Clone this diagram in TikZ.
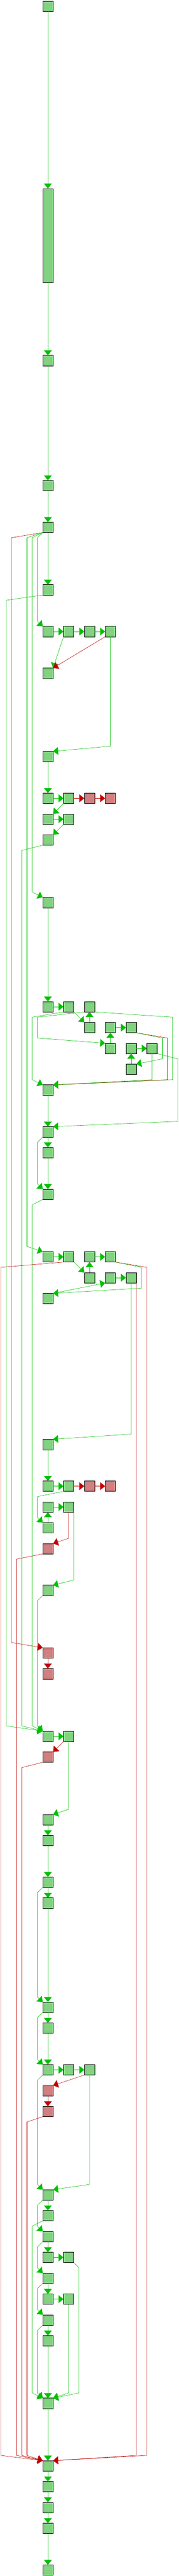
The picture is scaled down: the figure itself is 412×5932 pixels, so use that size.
\documentclass[tikz,border=0pt]{standalone}
\usetikzlibrary{arrows.meta}
\definecolor{gfill}{HTML}{82D282}
\definecolor{pfill}{HTML}{D08080}
\definecolor{gline}{HTML}{00C000}
\definecolor{rline}{HTML}{C00000}
\tikzset{
  gbox/.style={draw=black, fill=gfill, line width=0.8pt, minimum width=24pt, minimum height=24pt, inner sep=0pt, outer sep=0pt},
  pbox/.style={gbox, fill=pfill},
  ge/.style={draw=gline, line width=0.7pt, -{Triangle[length=11.5pt,width=18pt]}},
  re/.style={draw=rline, line width=0.7pt, -{Triangle[length=11.5pt,width=18pt]}},
}
\begin{document}
\begin{tikzpicture}[x=1pt,y=-1pt]
\useasboundingbox (0,0) rectangle (412,5932);
% ---------- nodes ----------
\node[gbox] (n1) at (110.5,14.3) {};
\node[gbox, minimum height=216pt] (n2) at (110.5,542.3) {};
\node[gbox] (n3) at (110.5,830.3) {};
\node[gbox] (n4) at (110.5,1118.3) {};
\node[gbox] (n5) at (110.5,1214.3) {};
\node[gbox] (n6) at (110.5,1358.3) {};
\node[gbox] (n7a) at (110.5,1454.3) {};
\node[gbox] (n7b) at (158.5,1454.3) {};
\node[gbox] (n7c) at (206.5,1454.3) {};
\node[gbox] (n7d) at (254.5,1454.3) {};
\node[gbox] (n8) at (110.5,1550.3) {};
\node[gbox] (n9) at (110.5,1742.3) {};
\node[gbox] (n10a) at (110.5,1838.3) {};
\node[gbox] (n10b) at (158.5,1838.3) {};
\node[pbox] (n10c) at (206.5,1838.3) {};
\node[pbox] (n10d) at (254.5,1838.3) {};
\node[gbox] (n11a) at (110.5,1886.3) {};
\node[gbox] (n11b) at (158.5,1886.3) {};
\node[gbox] (n12) at (110.5,1934.3) {};
\node[gbox] (n13) at (110.5,2078.3) {};
\node[gbox] (r1a) at (110.5,2318.3) {};
\node[gbox] (r1b) at (158.5,2318.3) {};
\node[gbox] (r1c) at (206.5,2318.3) {};
\node[gbox] (r2a) at (206.5,2366.3) {};
\node[gbox] (r2b) at (254.5,2366.3) {};
\node[gbox] (r2c) at (302.5,2366.3) {};
\node[gbox] (r3a) at (254.5,2414.3) {};
\node[gbox] (r3b) at (302.5,2414.3) {};
\node[gbox] (r3c) at (350.5,2414.3) {};
\node[gbox] (r4) at (302.5,2462.3) {};
\node[gbox] (nb) at (110.5,2510.3) {};
\node[gbox] (nc) at (110.5,2606.3) {};
\node[gbox] (nd) at (110.5,2654.3) {};
\node[gbox] (ne) at (110.5,2750.3) {};
\node[gbox] (f1a) at (110.5,2894.3) {};
\node[gbox] (f1b) at (158.5,2894.3) {};
\node[gbox] (f1c) at (206.5,2894.3) {};
\node[gbox] (f1d) at (254.5,2894.3) {};
\node[gbox] (f2a) at (206.5,2942.3) {};
\node[gbox] (f2b) at (254.5,2942.3) {};
\node[gbox] (f2c) at (302.5,2942.3) {};
\node[gbox] (ng) at (110.5,2990.3) {};
\node[gbox] (nh) at (110.5,3326.3) {};
\node[gbox] (i1a) at (110.5,3422.3) {};
\node[gbox] (i1b) at (158.5,3422.3) {};
\node[pbox] (i1c) at (206.5,3422.3) {};
\node[pbox] (i1d) at (254.5,3422.3) {};
\node[gbox] (i2a) at (110.5,3470.3) {};
\node[gbox] (i2b) at (158.5,3470.3) {};
\node[gbox] (i3) at (110.5,3518.3) {};
\node[pbox] (nj) at (110.5,3566.3) {};
\node[gbox] (nk) at (110.5,3662.3) {};
\node[pbox] (nl) at (110.5,3806.3) {};
\node[pbox] (nm) at (110.5,3854.3) {};
\node[gbox] (nna) at (110.5,3998.3) {};
\node[gbox] (nnb) at (158.5,3998.3) {};
\node[pbox] (no) at (110.5,4046.3) {};
\node[gbox] (np) at (110.5,4190.3) {};
\node[gbox] (nq) at (110.5,4238.3) {};
\node[gbox] (nr) at (110.5,4334.3) {};
\node[gbox] (ns) at (110.5,4382.3) {};
\node[gbox] (nt) at (110.5,4622.3) {};
\node[gbox] (nu) at (110.5,4670.3) {};
\node[gbox] (va) at (110.5,4766.3) {};
\node[gbox] (vb) at (158.5,4766.3) {};
\node[gbox] (vc) at (206.5,4766.3) {};
\node[pbox] (nw) at (110.5,4814.3) {};
\node[pbox] (nx) at (110.5,4862.3) {};
\node[gbox] (ny) at (110.5,5054.3) {};
\node[gbox] (nz) at (110.5,5102.3) {};
\node[gbox] (aa) at (110.5,5150.3) {};
\node[gbox] (aba) at (110.5,5198.3) {};
\node[gbox] (abb) at (158.5,5198.3) {};
\node[gbox] (ac) at (110.5,5246.3) {};
\node[gbox] (ada) at (110.5,5294.3) {};
\node[gbox] (adb) at (158.5,5294.3) {};
\node[gbox] (ae) at (110.5,5342.3) {};
\node[gbox] (af) at (110.5,5390.3) {};
\node[gbox] (ag) at (110.5,5534.3) {};
\node[gbox] (ah) at (110.5,5678.3) {};
\node[gbox] (ai) at (110.5,5726.3) {};
\node[gbox] (aj) at (110.5,5774.3) {};
\node[gbox] (ak) at (110.5,5822.3) {};
\node[gbox] (al) at (110.5,5918.3) {};
% ---------- edges ----------
\draw[ge] (n1.south) -- (n2.north);
\draw[ge] (n2.south) -- (n3.north);
\draw[ge] (n3.south) -- (n4.north);
\draw[ge] (n4.south) -- (n5.north);
\draw[ge] (n5.south) -- (n6.north);
\draw[re] (n5.south west) -- (26.3,1238.3) -- (26.3,3782.3) -- (nl.north west);
\draw[ge] (n5.south west) -- (62.3,1238.3) -- (62.3,2870.3) -- (f1a.north west);
\draw[ge] (n5.south west) -- (74.3,1238.3) -- (74.3,2054.3) -- (n13.north west);
\draw[ge] (n5.south west) -- (86.3,1238.3) -- (86.3,1430.3) -- (n7a.north west);
\draw[ge] (n6.south west) -- (14.3,1382.3) -- (14.3,3974.3) -- (nna.north west);
\draw[ge] (n7a.east) -- (n7b.west);
\draw[ge] (n7b.east) -- (n7c.west);
\draw[ge] (n7c.east) -- (n7d.west);
\draw[ge] (n7b.south west) -- (n8.north east);
\draw[re] (n7d.south west) -- (n8.north east);
\draw[ge] (n7d.south) -- (254.5,1718.3) -- (n9.north east);
\draw[ge] (n9.south) -- (n10a.north);
\draw[ge] (n10a.east) -- (n10b.west);
\draw[re] (n10b.east) -- (n10c.west);
\draw[re] (n10c.east) -- (n10d.west);
\draw[ge] (n10b.south west) -- (n11a.north east);
\draw[ge] (n11a.east) -- (n11b.west);
\draw[ge] (n11b.south west) -- (n12.north east);
\draw[ge] (n12.south west) -- (50.3,1958.3) -- (50.3,3974.3) -- (nna.north west);
\draw[ge] (n13.south) -- (r1a.north);
\draw[ge] (r1a.east) -- (r1b.west);
\draw[ge] (r1b.south east) -- (r2a.north west);
\draw[ge] (r2a.north) -- (r1c.south);
\draw[ge] (r2b.east) -- (r2c.west);
\draw[ge] (r3a.north) -- (r2b.south);
\draw[ge] (r3b.east) -- (r3c.west);
\draw[ge] (r4.north) -- (r3b.south);
\draw[ge] (r1b.south west) -- (74.3,2342.3) -- (74.3,2486.3) -- (nb.north west);
\draw[ge] (r1c.south west) -- (86.3,2342.3) -- (86.3,2390.3) -- (r3a.north west);
\draw[ge] (r1c.south east) -- (398.3,2342.3) -- (398.3,2486.3) -- (nb.north east);
\draw[re] (r2c.south east) -- (386.3,2390.3) -- (386.3,2486.3) -- (nb.north east);
\draw[ge] (r2c.south east) -- (374.3,2390.3) -- (374.3,2438.3) -- (r4.north east);
\draw[ge] (r3c.south) -- (350.5,2486.3) -- (nb.north east);
\draw[ge] (r3c.south east) -- (410.3,2438.3) -- (410.3,2582.3) -- (nc.north east);
\draw[ge] (nb.south) -- (nc.north);
\draw[ge] (nc.south) -- (nd.north);
\draw[ge] (nc.south west) -- (86.3,2630.3) -- (86.3,2726.3) -- (ne.north west);
\draw[ge] (nd.south) -- (ne.north);
\draw[ge] (ne.south west) -- (74.3,2774.3) -- (74.3,3974.3) -- (nna.north west);
\draw[ge] (f1a.east) -- (f1b.west);
\draw[ge] (f1c.east) -- (f1d.west);
\draw[ge] (f1b.south east) -- (f2a.north west);
\draw[ge] (f2a.north) -- (f1c.south);
\draw[ge] (f2b.east) -- (f2c.west);
\draw[re] (f1b.south west) -- (2.3,2918.3) -- (2.3,5654.3) -- (ah.north west);
\draw[re] (f1d.south east) -- (338.3,2918.3) -- (338.3,5654.3) -- (ah.north east);
\draw[ge] (f1d.south east) -- (326.3,2918.3) -- (326.3,2966.3) -- (ng.north east);
\draw[ge] (ng.north east) -- (f2b.south west);
\draw[ge] (f2c.south) -- (302.5,3302.3) -- (nh.north east);
\draw[re] (f2c.south east) -- (314.5,5654.3) -- (ah.north east);
\draw[ge] (nh.south) -- (i1a.north);
\draw[ge] (i1a.east) -- (i1b.west);
\draw[re] (i1b.east) -- (i1c.west);
\draw[re] (i1c.east) -- (i1d.west);
\draw[ge] (i1b.south west) -- (86.3,3446.3) -- (86.3,3494.3) -- (i3.north west);
\draw[ge] (i3.north) -- (i2a.south);
\draw[ge] (i2a.east) -- (i2b.west);
\draw[re] (i2b.south) -- (158.5,3542.3) -- (nj.north east);
\draw[ge] (i2b.south east) -- (170.5,3638.3) -- (nk.north east);
\draw[re] (nj.south west) -- (38.3,3590.3) -- (38.3,5654.3) -- (ah.north west);
\draw[ge] (nk.south west) -- (86.3,3686.3) -- (86.3,3974.3) -- (nna.north west);
\draw[re] (nl.south) -- (nm.north);
\draw[ge] (nna.east) -- (nnb.west);
\draw[re] (nnb.south west) -- (no.north east);
\draw[re] (no.south west) -- (50.3,4070.3) -- (50.3,5654.3) -- (ah.north west);
\draw[ge] (nnb.south) -- (158.5,4166.3) -- (np.north east);
\draw[ge] (np.south) -- (nq.north);
\draw[ge] (nq.south) -- (nr.north);
\draw[ge] (nr.south west) -- (86.3,4358.3) -- (86.3,4598.3) -- (nt.north west);
\draw[ge] (nr.south) -- (ns.north);
\draw[ge] (ns.south) -- (nt.north);
\draw[ge] (nt.south west) -- (86.3,4646.3) -- (86.3,4742.3) -- (va.north west);
\draw[ge] (nt.south) -- (nu.north);
\draw[ge] (nu.south) -- (va.north);
\draw[ge] (va.east) -- (vb.west);
\draw[ge] (vb.east) -- (vc.west);
\draw[ge] (va.south west) -- (86.3,4790.3) -- (86.3,5030.3) -- (ny.north west);
\draw[re] (vc.south west) -- (nw.north east);
\draw[re] (nw.south) -- (nx.north);
\draw[re] (nx.south west) -- (62.3,4886.3) -- (62.3,5654.3) -- (ah.north west);
\draw[ge] (vc.south) -- (206.5,5030.3) -- (ny.north east);
\draw[ge] (ny.south) -- (nz.north);
\draw[ge] (ny.south west) -- (86.3,5078.3) -- (86.3,5126.3) -- (aa.north west);
\draw[ge] (nz.south west) -- (74.3,5126.3) -- (74.3,5510.3) -- (ag.north west);
\draw[ge] (aa.south) -- (aba.north);
\draw[ge] (aa.south west) -- (86.3,5174.3) -- (86.3,5222.3) -- (ac.north west);
\draw[ge] (aba.east) -- (abb.west);
\draw[ge] (abb.south east) -- (182.3,5222.3) -- (182.3,5510.3) -- (ag.north east);
\draw[ge] (ac.south) -- (ada.north);
\draw[ge] (ac.south west) -- (86.3,5270.3) -- (86.3,5318.3) -- (ae.north west);
\draw[ge] (ada.east) -- (adb.west);
\draw[ge] (adb.south) -- (158.5,5510.3) -- (ag.north east);
\draw[ge] (ae.south) -- (af.north);
\draw[ge] (ae.south west) -- (86.3,5366.3) -- (86.3,5510.3) -- (ag.north west);
\draw[ge] (af.south) -- (ag.north);
\draw[ge] (ag.south) -- (ah.north);
\draw[ge] (ah.south) -- (ai.north);
\draw[ge] (ai.south) -- (aj.north);
\draw[ge] (aj.south) -- (ak.north);
\draw[ge] (ak.south) -- (al.north);
\end{tikzpicture}
\end{document}
